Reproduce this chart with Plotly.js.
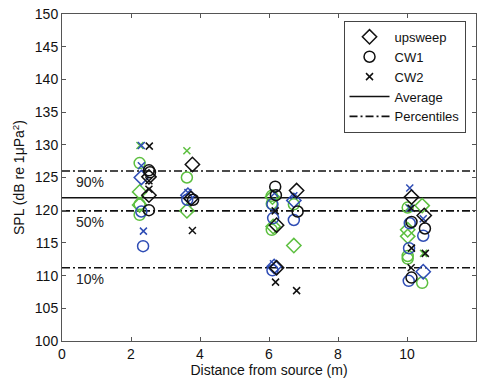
<!DOCTYPE html>
<html>
<head>
<meta charset="utf-8">
<script src="https://cdn.plot.ly/plotly-3.0.1.min.js"></script>
<style>html,body{margin:0;padding:0;background:#fff;}#chart{width:482px;height:383px;}</style>
</head>
<body>
<div id="chart"></div>
<script>
// ---- data (distance m, SPL dB) ----
var blackUpX  = [2.52, 2.52, 3.78, 3.74, 6.22, 6.22, 6.80, 10.13, 10.50];
var blackUpY  = [125.1, 122.3, 127.0, 121.8, 117.7, 111.2, 123.0, 122.0, 119.2];
var blackCw1X = [2.52, 2.55, 2.52, 3.80, 6.18, 6.20, 6.83, 10.13, 10.52, 10.13];
var blackCw1Y = [126.1, 125.8, 120.0, 121.6, 123.6, 122.3, 119.8, 118.2, 117.2, 109.7];
var blackCw2X = [2.53, 2.52, 2.52, 3.78, 6.18, 6.19, 6.80, 10.12, 10.13, 10.53, 10.12];
var blackCw2Y = [129.8, 124.5, 123.2, 116.9, 119.9, 109.0, 107.7, 120.3, 114.2, 113.4, 111.2];

var blueUpX  = [2.30, 3.65, 6.15, 6.72, 10.47];
var blueUpY  = [125.0, 122.3, 111.4, 121.5, 110.6];
var blueCw1X = [2.30, 2.35, 3.63, 6.10, 6.12, 6.10, 6.72, 10.08, 10.06, 10.05, 10.47];
var blueCw1Y = [119.8, 114.5, 121.6, 120.9, 118.8, 110.8, 118.5, 118.0, 114.2, 109.2, 116.1];
var blueCw2X = [2.30, 2.30, 2.36, 3.65, 6.16, 6.13, 6.72, 10.08, 10.47, 10.08];
var blueCw2Y = [129.9, 126.8, 116.8, 122.7, 122.6, 111.8, 122.2, 123.4, 118.7, 120.3];

var greenUpX  = [2.25, 2.25, 3.62, 6.12, 6.10, 6.72, 10.44, 10.02, 10.02];
var greenUpY  = [122.8, 120.8, 119.9, 117.5, 122.0, 114.6, 120.7, 117.0, 116.0];
var greenCw1X = [2.25, 2.25, 2.25, 3.62, 6.08, 6.08, 6.08, 6.72, 10.02, 10.02, 10.02, 10.44];
var greenCw1Y = [127.2, 120.9, 119.3, 125.0, 122.2, 121.0, 117.0, 120.9, 120.4, 113.0, 112.6, 108.9];
var greenCw2X = [2.26, 3.62, 10.48, 10.05];
var greenCw2Y = [129.9, 129.1, 113.4, 120.4];

var lineX = [0, 12];
var averageSPL = 121.9;
var percentileSPL = [126.0, 119.9, 111.2];
var percentileLabels = ['90%', '50%', '10%'];
var legendNames = ['upsweep', 'CW1', 'CW2', 'Average', 'Percentiles'];

// ---- styles ----
var BLACK = '#111111', BLUE = '#2f4db5', GREEN = '#5cbf3f';
var FONT = 'Liberation Sans, Arial, sans-serif';
function pts(x, y, color, kind, name, show) {
  var sym = kind === 0 ? 'diamond-open' : (kind === 1 ? 'circle-open' : 'x-thin-open');
  var size = kind === 0 ? 11 : (kind === 1 ? 11 : 7);
  return {
    type: 'scatter', mode: 'markers', x: x, y: y, name: name,
    showlegend: show, legendrank: kind + 1,
    marker: {symbol: sym, size: size, color: color, line: {color: color, width: 1.5}}
  };
}

var px = [], py = [];
percentileSPL.forEach(function (v, i) {
  if (i > 0) { px.push(null); py.push(null); }
  px.push(lineX[0], lineX[1]); py.push(v, v);
});

var data = [
  {type: 'scatter', mode: 'lines', x: lineX, y: [averageSPL, averageSPL], name: legendNames[3],
   legendrank: 4, line: {color: BLACK, width: 1.6}},
  {type: 'scatter', mode: 'lines', x: px, y: py, name: legendNames[4], connectgaps: false,
   legendrank: 5, line: {color: BLACK, width: 1.6, dash: '8px,3px,2px,3px'}},
  pts(greenUpX, greenUpY, GREEN, 0, legendNames[0], false),
  pts(greenCw1X, greenCw1Y, GREEN, 1, legendNames[1], false),
  pts(greenCw2X, greenCw2Y, GREEN, 2, legendNames[2], false),
  pts(blueUpX, blueUpY, BLUE, 0, legendNames[0], false),
  pts(blueCw1X, blueCw1Y, BLUE, 1, legendNames[1], false),
  pts(blueCw2X, blueCw2Y, BLUE, 2, legendNames[2], false),
  pts(blackUpX, blackUpY, BLACK, 0, legendNames[0], true),
  pts(blackCw1X, blackCw1Y, BLACK, 1, legendNames[1], true),
  pts(blackCw2X, blackCw2Y, BLACK, 2, legendNames[2], true)
];

var annotations = percentileLabels.map(function (t, i) {
  return {x: 0.8, y: percentileSPL[i], xref: 'x', yref: 'y', text: t, showarrow: false,
          yanchor: 'top', yshift: -1, font: {family: FONT, size: 14, color: '#222'}};
});

var axisCommon = {
  showgrid: false, zeroline: false, showline: true, linecolor: '#555', linewidth: 1,
  mirror: 'ticks', ticks: 'inside', ticklen: 4, tickcolor: '#555',
  tickfont: {family: FONT, size: 14, color: '#111'}
};

var layout = {
  width: 482, height: 383,
  margin: {l: 62, r: 6, t: 14, b: 42},
  paper_bgcolor: '#fff', plot_bgcolor: '#fff',
  font: {family: FONT, size: 14, color: '#111'},
  xaxis: Object.assign({}, axisCommon, {
    range: [0, 12], dtick: 2, tick0: 0,
    title: {text: 'Distance from source (m)', standoff: 4, font: {size: 14, color: '#111'}}
  }),
  yaxis: Object.assign({}, axisCommon, {
    range: [100, 150], dtick: 5, tick0: 100,
    title: {text: 'SPL (dB re 1μPa<sup>2</sup>)', standoff: 6, font: {size: 14, color: '#111'}}
  }),
  legend: {
    x: 0.68, y: 0.979, xanchor: 'left', yanchor: 'top',
    bgcolor: '#fff', bordercolor: '#444', borderwidth: 1, itemwidth: 40,
    font: {size: 13, color: '#111'}, traceorder: 'normal'
  },
  annotations: annotations
};

Plotly.newPlot('chart', data, layout, {displayModeBar: false, staticPlot: true});
</script>
</body>
</html>
